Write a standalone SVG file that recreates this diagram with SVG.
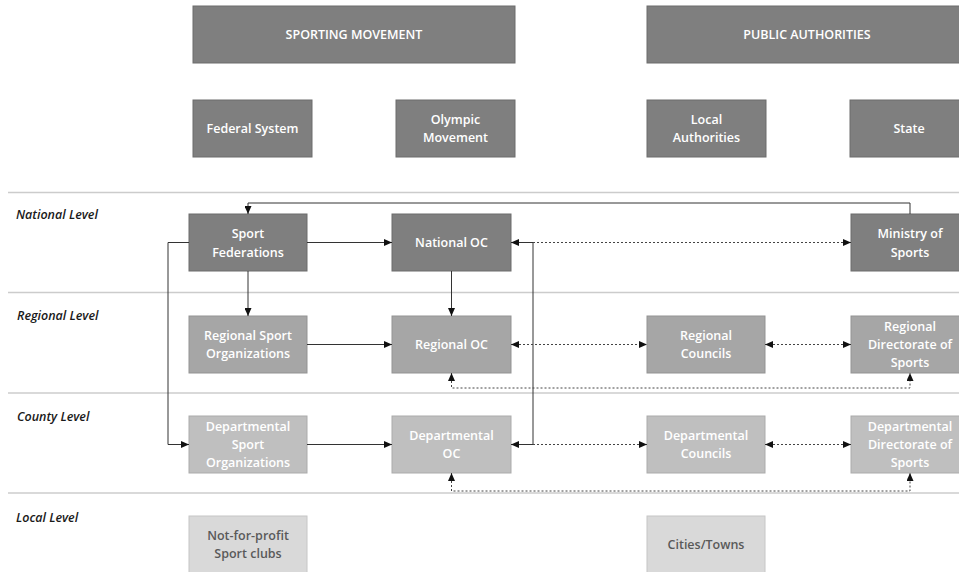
<svg xmlns="http://www.w3.org/2000/svg" width="959" height="572" viewBox="0 0 959 572">
<style>
  .b1 { fill: #7f7f7f; stroke: #6c6c6c; stroke-width: 1; }
  .b2 { fill: #a6a6a6; stroke: #939393; stroke-width: 1; }
  .b3 { fill: #bfbfbf; stroke: #ababab; stroke-width: 1; }
  .b4 { fill: #d9d9d9; stroke: #c6c6c6; stroke-width: 1; }
  .t { font-family: "Open Sans", "Liberation Sans", sans-serif; font-size: 12.5px; font-weight: 600; fill: #ffffff; text-anchor: middle; }
  .td { fill: #595959; }
  .lvl { font-family: "Open Sans", "Liberation Sans", sans-serif; font-size: 12.5px; font-weight: 600; font-style: italic; fill: #1a1a1a; }
  .sep { stroke: #cccccc; stroke-width: 1.5; }
  .solid { fill: none; stroke: #333333; stroke-width: 1; }
  .dot { fill: none; stroke: #444444; stroke-width: 1; stroke-dasharray: 2 2; }
</style>
<defs>
  <marker id="ah" viewBox="0 0 8 7" refX="8" refY="3.5" markerWidth="8" markerHeight="7" markerUnits="userSpaceOnUse" orient="auto-start-reverse">
    <path d="M0,0 L8,3.5 L0,7 z" fill="#111111"/>
  </marker>
</defs>
<rect width="959" height="572" fill="#ffffff"/>

<g id="separators">
  <line class="sep" x1="8" y1="192.5" x2="959" y2="192.5"/>
  <line class="sep" x1="8" y1="292.5" x2="959" y2="292.5"/>
  <line class="sep" x1="8" y1="393" x2="959" y2="393"/>
  <line class="sep" x1="8" y1="493" x2="959" y2="493"/>
</g>

<g id="levels">
  <text class="lvl" x="16" y="219">National Level</text>
  <text class="lvl" x="17" y="320">Regional Level</text>
  <text class="lvl" x="17" y="421">County Level</text>
  <text class="lvl" x="16" y="522">Local Level</text>
</g>

<g id="sporting-movement">
  <rect class="b1" x="193" y="6" width="322" height="57"/>
  <text class="t" x="354" y="39">SPORTING MOVEMENT</text>
</g>
<g id="public-authorities">
  <rect class="b1" x="647" y="6" width="322" height="57"/>
  <text class="t" x="807" y="39">PUBLIC AUTHORITIES</text>
</g>
<g id="federal-system">
  <rect class="b1" x="193" y="100" width="119" height="57"/>
  <text class="t" x="252.5" y="133">Federal System</text>
</g>
<g id="olympic-movement">
  <rect class="b1" x="396" y="100" width="119" height="57"/>
  <text class="t" x="455.5" y="124">Olympic</text>
  <text class="t" x="455.5" y="142">Movement</text>
</g>
<g id="local-authorities">
  <rect class="b1" x="647" y="100" width="119" height="57"/>
  <text class="t" x="706.5" y="124">Local</text>
  <text class="t" x="706.5" y="142">Authorities</text>
</g>
<g id="state">
  <rect class="b1" x="850" y="100" width="119" height="57"/>
  <text class="t" x="909" y="133">State</text>
</g>

<g id="sport-federations">
  <rect class="b1" x="189" y="214" width="118" height="57"/>
  <text class="t" x="248" y="238">Sport</text>
  <text class="t" x="248" y="257">Federations</text>
</g>
<g id="national-oc">
  <rect class="b1" x="392" y="214" width="119" height="57"/>
  <text class="t" x="451.5" y="247">National OC</text>
</g>
<g id="ministry-of-sports">
  <rect class="b1" x="851" y="214" width="118" height="57"/>
  <text class="t" x="910" y="238">Ministry of</text>
  <text class="t" x="910" y="257">Sports</text>
</g>

<g id="regional-sport-organizations">
  <rect class="b2" x="189" y="316" width="118" height="57"/>
  <text class="t" x="248" y="340">Regional Sport</text>
  <text class="t" x="248" y="358">Organizations</text>
</g>
<g id="regional-oc">
  <rect class="b2" x="392" y="316" width="119" height="57"/>
  <text class="t" x="451.5" y="349">Regional OC</text>
</g>
<g id="regional-councils">
  <rect class="b2" x="647" y="316" width="118" height="57"/>
  <text class="t" x="706" y="340">Regional</text>
  <text class="t" x="706" y="358">Councils</text>
</g>
<g id="regional-directorate">
  <rect class="b2" x="851" y="316" width="118" height="57"/>
  <text class="t" x="910" y="331">Regional</text>
  <text class="t" x="910" y="349">Directorate of</text>
  <text class="t" x="910" y="367">Sports</text>
</g>

<g id="departmental-sport-organizations">
  <rect class="b3" x="189" y="416" width="118" height="57"/>
  <text class="t" x="248" y="431">Departmental</text>
  <text class="t" x="248" y="449">Sport</text>
  <text class="t" x="248" y="467">Organizations</text>
</g>
<g id="departmental-oc">
  <rect class="b3" x="392" y="416" width="119" height="57"/>
  <text class="t" x="451.5" y="440">Departmental</text>
  <text class="t" x="451.5" y="458">OC</text>
</g>
<g id="departmental-councils">
  <rect class="b3" x="647" y="416" width="118" height="57"/>
  <text class="t" x="706" y="440">Departmental</text>
  <text class="t" x="706" y="458">Councils</text>
</g>
<g id="departmental-directorate">
  <rect class="b3" x="851" y="416" width="118" height="57"/>
  <text class="t" x="910" y="431">Departmental</text>
  <text class="t" x="910" y="449">Directorate of</text>
  <text class="t" x="910" y="467">Sports</text>
</g>

<g id="sport-clubs">
  <rect class="b4" x="189" y="516" width="118" height="60"/>
  <text class="t td" x="248" y="540">Not-for-profit</text>
  <text class="t td" x="248" y="558">Sport clubs</text>
</g>
<g id="cities-towns">
  <rect class="b4" x="647" y="516" width="118" height="60"/>
  <text class="t td" x="706" y="549">Cities/Towns</text>
</g>

<g id="connectors">
  <path class="solid" d="M910,214 V203 H248 V214" marker-end="url(#ah)"/>
  <path class="solid" d="M307,242.5 H392" marker-end="url(#ah)"/>
  <path class="solid" d="M248,271 V316" marker-end="url(#ah)"/>
  <path class="solid" d="M451.5,271 V316" marker-end="url(#ah)"/>
  <path class="solid" d="M307,344.5 H392" marker-end="url(#ah)"/>
  <path class="solid" d="M189,242.5 H168 V444.5 H189" marker-end="url(#ah)"/>
  <path class="solid" d="M307,444.5 H392" marker-end="url(#ah)"/>
  <path class="solid" d="M511,242.5 H533 V444.5 H511" marker-start="url(#ah)" marker-end="url(#ah)"/>
  <path class="dot" d="M533,242.5 H851" marker-end="url(#ah)"/>
  <path class="dot" d="M511,344.5 H647" marker-start="url(#ah)" marker-end="url(#ah)"/>
  <path class="dot" d="M765,344.5 H851" marker-start="url(#ah)" marker-end="url(#ah)"/>
  <path class="dot" d="M451.5,373 V388 H910 V373" marker-start="url(#ah)" marker-end="url(#ah)"/>
  <path class="dot" d="M533,444.5 H647" marker-end="url(#ah)"/>
  <path class="dot" d="M765,444.5 H851" marker-start="url(#ah)" marker-end="url(#ah)"/>
  <path class="dot" d="M451.5,473 V491 H910 V473" marker-start="url(#ah)" marker-end="url(#ah)"/>
</g>
</svg>
